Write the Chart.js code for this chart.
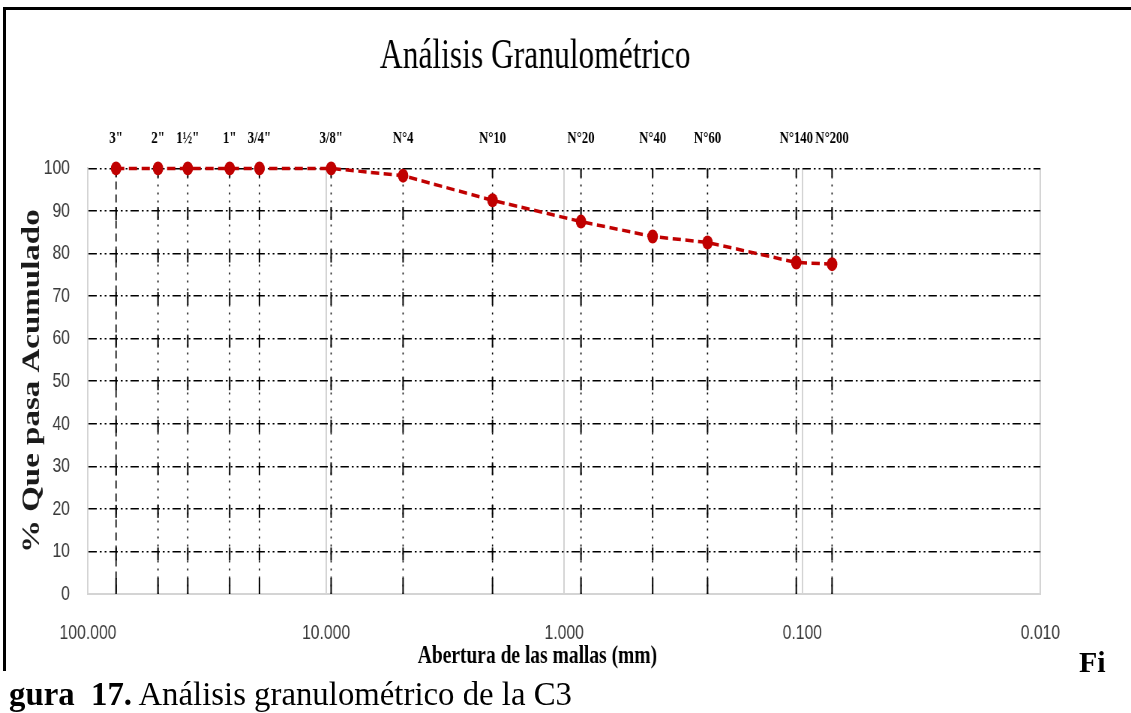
<!DOCTYPE html>
<html>
<head>
<meta charset="utf-8">
<script src="https://cdn.jsdelivr.net/npm/chart.js@4.4.1/dist/chart.umd.min.js"></script>
<style>
    html, body { margin: 0; padding: 0; background: #fff; overflow: hidden; }
    body { width: 1131px; height: 713px; position: relative; }
    /* the original figure is squeezed sideways, so the chart is drawn wide and compressed */
    #wrap { position: absolute; left: 0; top: 0; width: 1508px; height: 713px; transform: scaleX(0.75); transform-origin: 0 0; }
    #frame { position: absolute; left: 3px; top: 7px; width: 1140px; height: 661px; border-top: 3px solid #000; border-left: 3px solid #000; }
    .cap { position: absolute; font-family: 'Liberation Serif', serif; color: #000; white-space: pre; }
</style>
</head>
<body>
<div id="wrap"><canvas id="canvas" width="1508" height="713"></canvas></div>
<div id="frame"></div>
<div class="cap" style="left:1079px; top:647px; font-size:30px; line-height:30px; font-weight:bold;">Fi</div>
<div class="cap" style="left:9px; top:678px; font-size:32.8px; line-height:32px;"><b>gura  17.</b> Análisis granulométrico de la C3</div>
<script>
const sieves = ['3"', '2"', '1½"', '1"', '3/4"', '3/8"', 'N°4', 'N°10', 'N°20', 'N°40', 'N°60', 'N°140', 'N°200'];
const sizes = [76.2, 50.8, 38.1, 25.4, 19.05, 9.525, 4.75, 2.0, 0.85, 0.425, 0.25, 0.106, 0.075];
const passing = [100, 100, 100, 100, 100, 100, 98.3, 92.5, 87.5, 84.0, 82.6, 77.9, 77.5];
const decades = [100, 10, 1, 0.1, 0.01];
const yTicks = [0, 10, 20, 30, 40, 50, 60, 70, 80, 90, 100];

// dotted sieve lines with short solid bits where they cross the grid
const sieveLines = {
    id: 'sieveLines',
    beforeDatasetsDraw(chart) {
        const { ctx, chartArea, scales: { x, y } } = chart;
        ctx.save();
        ctx.strokeStyle = '#000';
        sizes.forEach(function (s, i) {
            const px = x.getPixelForValue(s);
            ctx.lineWidth = 1.6;
            ctx.setLineDash(i === 0 ? [8, 5] : [2, 6]);
            ctx.beginPath();
            ctx.moveTo(px, chartArea.top);
            ctx.lineTo(px, chartArea.bottom);
            ctx.stroke();
            ctx.setLineDash([]);
            ctx.lineWidth = 2;
            yTicks.forEach(function (v) {
                const py = y.getPixelForValue(v);
                const a = Math.max(chartArea.top, py - (v === 0 ? 16 : 4));
                const b = Math.min(chartArea.bottom, py + 9);
                ctx.beginPath();
                ctx.moveTo(px, a);
                ctx.lineTo(px, b);
                ctx.stroke();
            });
        });
        ctx.restore();
    }
};

const data = {
    datasets: [
        {
            label: '% Que pasa',
            data: sizes.map((s, i) => ({ x: s, y: passing[i] })),
            xAxisID: 'x',
            yAxisID: 'y',
            borderColor: '#c00000',
            backgroundColor: '#c00000',
            borderWidth: 3.5,
            borderDash: [11, 6],
            pointStyle: 'circle',
            pointRadius: 7,
            pointBorderWidth: 0,
            pointBackgroundColor: '#c00000',
            tension: 0,
            clip: false,
        },
    ],
}

const config = {
    type: 'line',
    data: data,
    options: {
        responsive: false,
        animation: false,
        layout: { padding: { left: 40, right: 120.8, top: 0, bottom: 39 } },
        plugins: {
            legend: { display: false },
            tooltip: { enabled: false },
            title: {
                display: true,
                text: 'Análisis Granulométrico',
                color: '#000',
                font: { family: 'Liberation Serif', size: 42, weight: 'normal' },
                padding: { top: 32, bottom: 0 },
            },
        },
        scales: {
            x: {
                type: 'logarithmic',
                position: 'bottom',
                reverse: true,
                min: 0.01,
                max: 100,
                afterBuildTicks: (a) => { a.ticks = decades.map(v => ({ value: v })); },
                afterFit: (s) => { s.height = 80; },
                ticks: {
                    callback: (v) => Number(v).toFixed(3),
                    font: { family: 'Liberation Sans', size: 21 },
                    color: '#3a3a3a',
                    padding: 27,
                    autoSkip: false,
                    maxRotation: 0,
                },
                grid: { color: '#d4d4d4', lineWidth: 2, drawTicks: false },
                border: { display: true, color: '#d4d4d4', width: 2 },
                title: {
                    display: true,
                    text: 'Abertura de las mallas (mm)' + '\u00a0'.repeat(11),
                    color: '#000',
                    font: { family: 'Liberation Serif', size: 26, weight: 'bold' },
                    padding: { top: 0, bottom: 2 },
                },
            },
            x2: {
                type: 'logarithmic',
                position: 'top',
                reverse: true,
                min: 0.01,
                max: 100,
                afterBuildTicks: (a) => { a.ticks = sizes.map(v => ({ value: v })); },
                afterFit: (s) => { s.height = 86; },
                ticks: {
                    callback: (v, i) => sieves[i],
                    font: { family: 'Liberation Serif', size: 17, weight: 'bold' },
                    color: '#000',
                    padding: 12,
                    autoSkip: false,
                    maxRotation: 0,
                },
                grid: { display: false },
                border: { display: false },
            },
            y: {
                min: 0,
                max: 100,
                afterBuildTicks: (a) => { a.ticks = yTicks.map(v => ({ value: v })); },
                afterFit: (s) => { s.width = 77.3; },
                ticks: {
                    font: { family: 'Liberation Sans', size: 21 },
                    color: '#3a3a3a',
                    padding: 24,
                },
                grid: {
                    color: (c) => (c.tick && c.tick.value === 0) ? 'rgba(0,0,0,0)' : '#000',
                    lineWidth: 1.6,
                    drawTicks: false,
                },
                border: { display: true, color: '#d4d4d4', width: 2, dash: [11, 4, 2.5, 4, 2.5, 4] },
                title: {
                    display: true,
                    text: '% Que pasa Acumulado',
                    color: '#1a1a1a',
                    font: { family: 'Liberation Serif', size: 33, weight: 'bold' },
                    padding: { top: -16, bottom: 0 },
                },
            },
        },
    },
    plugins: [sieveLines],
}

const canvas = document.getElementById('canvas');
const chart = new Chart(canvas, config);
</script>
</body>
</html>
